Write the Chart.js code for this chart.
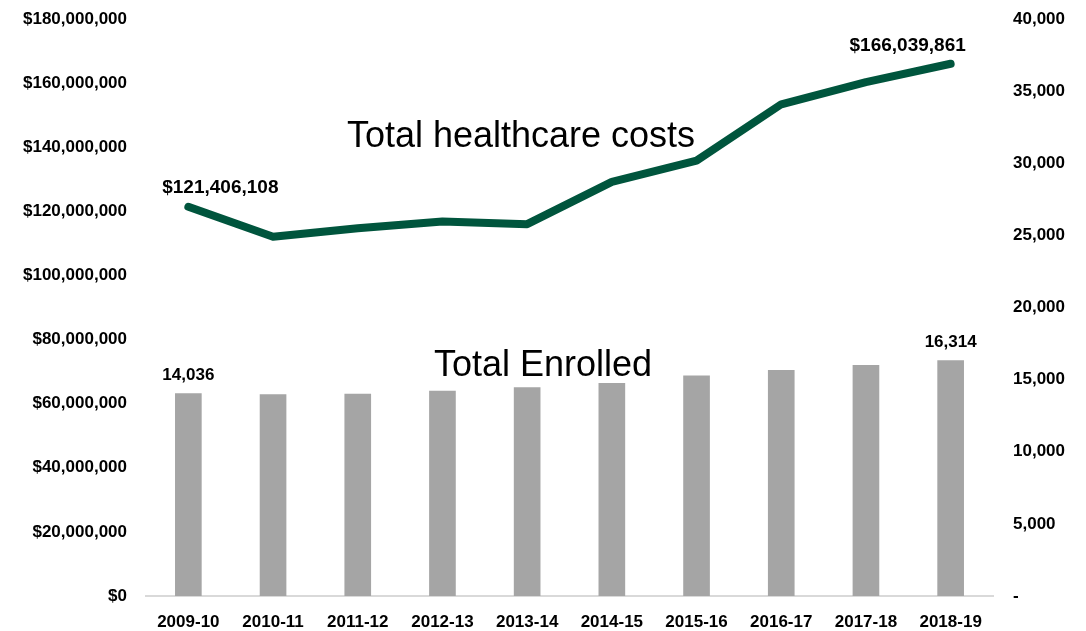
<!DOCTYPE html>
<html>
<head>
<meta charset="utf-8">
<title>Total healthcare costs and enrollment</title>
<script src="https://cdn.jsdelivr.net/npm/chart.js@4.4.1/dist/chart.umd.min.js"></script>
<style>
  html, body { margin: 0; padding: 0; background: #fff; }
  #wrap { width: 1086px; height: 631px; }
</style>
</head>
<body>
<div id="wrap"><canvas id="myChart" width="1086" height="631"></canvas></div>
<script>
// school years on the x axis
const seasons = ['2009-10', '2010-11', '2011-12', '2012-13', '2013-14', '2014-15', '2015-16', '2016-17', '2017-18', '2018-19'];
// total healthcare costs, dollars (left axis)
const totalCosts = [121406108, 112100000, 114700000, 116800000, 116000000, 129200000, 135800000, 153400000, 160300000, 166039861];
// total enrolled (right axis)
const totalEnrolled = [14036, 13960, 14000, 14210, 14440, 14745, 15270, 15645, 15990, 16314];

// only first and last points carry a value label
const costLabelIdx = [0, 9];
const enrolledLabelIdx = [0, 9];

const FONT = "'Liberation Sans', Arial, sans-serif";

const fmtDollar = v => '$' + Number(v).toLocaleString('en-US');
const fmtCount = v => Number(v).toLocaleString('en-US');

// value labels + the two floating captions
const labelPlugin = {
    id: 'labels',
    afterDatasetsDraw(chart) {
        const ctx = chart.ctx;
        ctx.save();
        ctx.fillStyle = '#000';
        ctx.textAlign = 'center';
        ctx.textBaseline = 'alphabetic';

        const lineMeta = chart.getDatasetMeta(1);
        const costOffsets = { 0: [32, -14], 9: [-43, -13] };
        ctx.font = 'bold 19px ' + FONT;
        costLabelIdx.forEach(i => {
            const pt = lineMeta.data[i];
            const off = costOffsets[i];
            ctx.fillText(fmtDollar(totalCosts[i]), pt.x + off[0], pt.y + off[1]);
        });

        const barMeta = chart.getDatasetMeta(0);
        ctx.font = 'bold 17px ' + FONT;
        enrolledLabelIdx.forEach(i => {
            const bar = barMeta.data[i];
            ctx.fillText(fmtCount(totalEnrolled[i]), bar.x, bar.y - 14);
        });

        ctx.font = '36px ' + FONT;
        ctx.fillText('Total healthcare costs', 521, 147);
        ctx.fillText('Total Enrolled', 543, 376);
        ctx.restore();
    }
};

// fixed axis widths, and no extra room reserved for the end tick labels
function fitVertical(width) {
    return s => {
        s.width = width;
        s.paddingTop = 0;
        s.paddingBottom = 0;
    };
}

const ctx = document.getElementById('myChart');
const myChart = new Chart(ctx, {
    type: 'bar',
    data: {
        labels: seasons,
        datasets: [{
            type: 'bar',
            label: 'Total Enrolled',
            data: totalEnrolled,
            backgroundColor: '#a5a5a5',
            barThickness: 26,
            yAxisID: 'y1',
            order: 2
        }, {
            type: 'line',
            label: 'Total healthcare costs',
            data: totalCosts,
            borderColor: '#00553d',
            borderWidth: 8,
            borderCapStyle: 'round',
            borderJoinStyle: 'round',
            pointRadius: 0,
            tension: 0,
            fill: false,
            yAxisID: 'y',
            order: 1
        }]
    },
    options: {
        responsive: false,
        animation: false,
        devicePixelRatio: 1,
        layout: { padding: { top: 19, bottom: 0, left: 0, right: 0 } },
        plugins: {
            legend: { display: false },
            tooltip: { enabled: false }
        },
        scales: {
            x: {
                grid: { display: false, drawTicks: false },
                border: { display: true, color: '#d9d9d9', width: 2 },
                ticks: {
                    color: '#000',
                    padding: 16,
                    maxRotation: 0,
                    font: { family: FONT, size: 17, weight: 'bold' }
                },
                afterFit: s => { s.height = 35; }
            },
            y: {
                position: 'left',
                min: 0,
                max: 180000000,
                grid: { display: false, drawTicks: false },
                border: { display: false },
                ticks: {
                    stepSize: 20000000,
                    color: '#000',
                    padding: 19,
                    font: { family: FONT, size: 17, weight: 'bold' },
                    callback: v => fmtDollar(v)
                },
                afterFit: fitVertical(146)
            },
            y1: {
                position: 'right',
                min: 0,
                max: 40000,
                grid: { display: false, drawTicks: false },
                border: { display: false },
                ticks: {
                    stepSize: 5000,
                    color: '#000',
                    padding: 20,
                    font: { family: FONT, size: 17, weight: 'bold' },
                    callback: v => v === 0 ? '-' : fmtCount(v)
                },
                afterFit: fitVertical(93)
            }
        }
    },
    plugins: [labelPlugin]
});
</script>
</body>
</html>
